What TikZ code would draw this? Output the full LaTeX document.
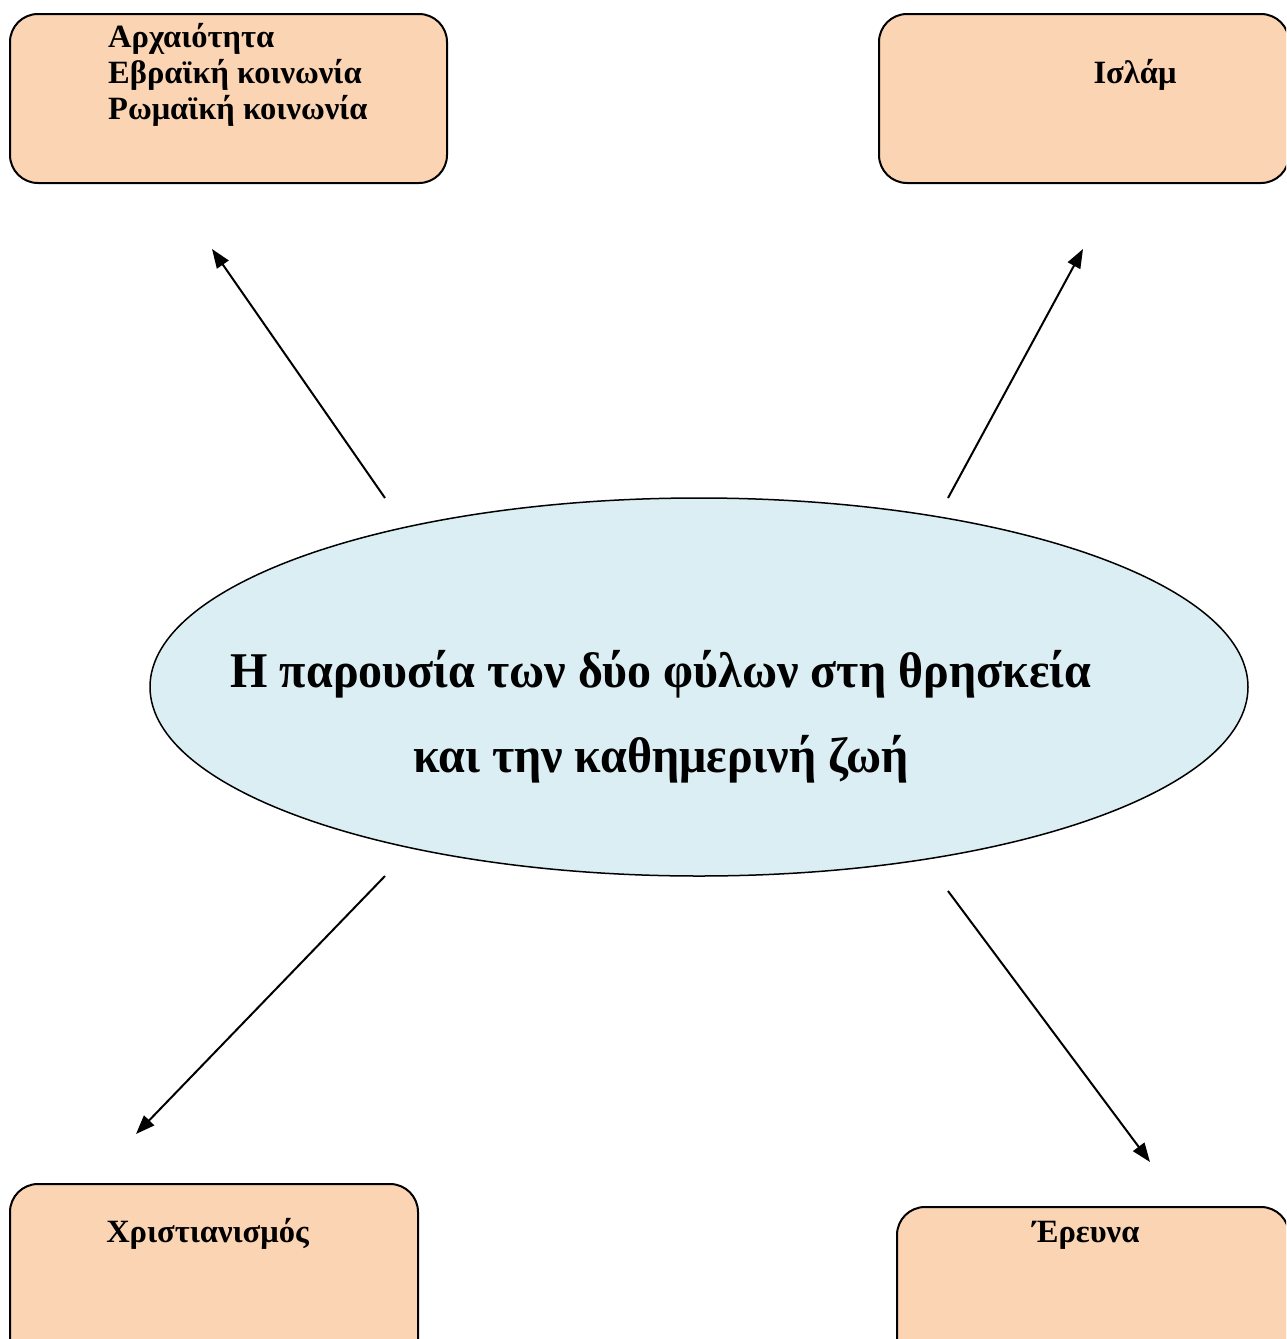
\documentclass[tikz,border=0pt]{standalone}
\usepackage{fontspec}
\setmainfont{Liberation Serif}
\newfontfamily\condfont{Liberation Serif}[FakeStretch=0.96]
\usetikzlibrary{arrows.meta,shapes.geometric}
\definecolor{boxfill}{HTML}{FBD4B4}
\definecolor{ellfill}{HTML}{DBEEF3}
\tikzset{
  topicbox/.style={draw=black, line width=2pt, fill=boxfill, rounded corners=28pt, rectangle, inner sep=0pt},
  boxtext/.style={font=\fontsize{32.5}{36}\selectfont\bfseries, inner sep=0pt, align=left},
  centertext/.style={font=\condfont\fontsize{50}{85}\selectfont\bfseries, inner sep=0pt, align=center},
  link/.style={line width=2pt, -{Triangle[length=19pt,width=14pt]}}
}
\begin{document}
\begin{tikzpicture}[x=1pt,y=-1pt]
\useasboundingbox (0,0) rectangle (1286,1339);
\clip (0,0) rectangle (1286,1339);
% boxes
\node[topicbox, minimum width=437pt, minimum height=169pt] (tl) at (228.5,98.5) {};
\node[topicbox, minimum width=410pt, minimum height=169pt] (tr) at (1084,98.5) {};
\node[topicbox, minimum width=408pt, minimum height=190pt] (bl) at (214,1279) {};
\node[topicbox, minimum width=392pt, minimum height=170pt] (br) at (1093,1292) {};
% ellipse
\node[draw=black, line width=1.5pt, fill=ellfill, ellipse, minimum width=1098pt, minimum height=378pt, inner sep=0pt] (ell) at (699,687) {};
% texts
\node[boxtext, anchor=base west] (tltext) at (108,119) {Αρχαιότητα\\Εβραϊκή κοινωνία\\Ρωμαϊκή κοινωνία};
\node[boxtext, anchor=base] (trtext) at (1135,83) {Ισλάμ};
\node[boxtext, anchor=base] (bltext) at (207.5,1242) {Χριστιανισμός};
\node[boxtext, anchor=base] (brtext) at (1086,1242) {Έρευνα};
\node[centertext, anchor=base] (elltext1) at (661,687) {Η παρουσία των δύο φύλων στη θρησκεία};
\node[centertext, anchor=base] (elltext2) at (661,772) {και την καθημερινή ζωή};
% arrow endpoints
\coordinate (a1s) at (385,498);
\coordinate (a1e) at (212,249);
\coordinate (a2s) at (948,498);
\coordinate (a2e) at (1083,249);
\coordinate (a3s) at (385,876);
\coordinate (a3e) at (136,1134);
\coordinate (a4s) at (948,891);
\coordinate (a4e) at (1150,1162);
\draw[link] (a1s) -- (a1e);
\draw[link] (a2s) -- (a2e);
\draw[link] (a3s) -- (a3e);
\draw[link] (a4s) -- (a4e);
\end{tikzpicture}
\end{document}
